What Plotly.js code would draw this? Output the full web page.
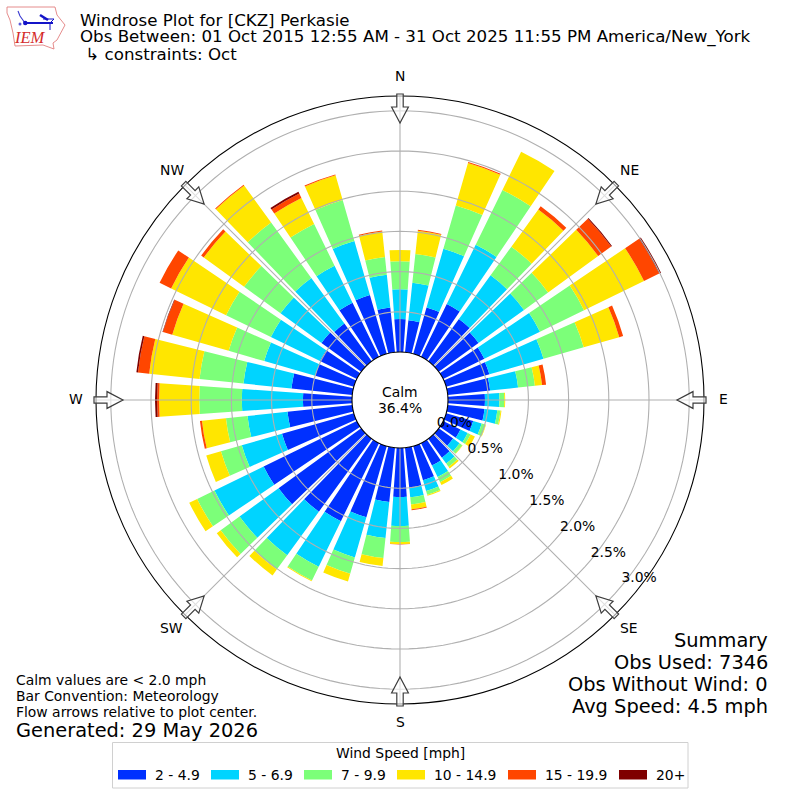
<!DOCTYPE html>
<html><head><meta charset="utf-8">
<script src="https://cdn.plot.ly/plotly-3.0.1.min.js"></script>
<style>html,body{margin:0;padding:0;background:#fff}</style>
</head><body><div id="chart" style="width:800px;height:800px"></div>
<script>
const directions = [0,10,20,30,40,50,60,70,80,90,100,110,120,130,140,150,160,170,180,190,200,210,220,230,240,250,260,270,280,290,300,310,320,330,340,350];
const speedBins = ["2 - 4.9","5 - 6.9","7 - 9.9","10 - 14.9","15 - 19.9","20+"];
const binColors = ["#0030ff","#00d4ff","#7cff79","#ffe600","#ff4600","#7f0000"];
const s2to5 = [0.41,0.40,0.60,0.73,0.65,0.61,0.57,0.56,0.53,0.46,0.46,0.35,0.24,0.22,0.29,0.31,0.44,0.50,0.61,0.68,0.92,1.08,1.12,1.27,1.29,0.93,0.81,0.61,0.76,0.50,0.51,0.61,0.58,0.75,0.76,0.56];
const s5to7 = [0.37,0.47,0.76,0.82,0.67,0.70,0.77,0.70,0.35,0.18,0.16,0.11,0.10,0.10,0.09,0.16,0.14,0.12,0.36,0.45,0.52,0.63,0.67,0.60,0.68,0.52,0.50,0.76,0.60,0.66,0.68,0.63,0.70,0.51,0.70,0.41];
const s7to10 = [0.35,0.36,0.56,0.76,0.44,0.37,0.61,0.52,0.21,0.06,0.04,0.05,0.04,0.04,0.05,0.07,0.05,0.09,0.20,0.25,0.21,0.19,0.22,0.29,0.24,0.27,0.27,0.53,0.55,0.46,0.62,0.56,0.85,0.58,0.53,0.22];
const s10to15 = [0.14,0.29,0.55,0.53,0.57,0.77,0.83,0.46,0.09,0.012,0.012,0.006,0.06,0.006,0.025,0.04,0.012,0.06,0.025,0.10,0.10,0.012,0.09,0.06,0.11,0.19,0.30,0.50,0.63,0.73,0.76,0.62,0.57,0.36,0.32,0.32];
const s15to20 = [0,0.012,0.012,0,0.05,0.20,0.21,0.05,0.05,0,0,0,0,0,0,0,0,0.012,0.004,0,0,0,0,0,0,0,0.025,0.025,0.14,0.12,0.16,0.04,0.012,0.06,0.012,0.012];
const s20up = [0,0,0,0,0,0.012,0.025,0,0,0,0,0,0,0,0,0,0,0,0,0,0,0,0,0,0,0,0,0.025,0.02,0.006,0,0,0,0.025,0,0];
const binValues = [s2to5,s5to7,s7to10,s10to15,s15to20,s20up];
const ringTicks = [0,0.5,1,1.5,2,2.5,3];
const ringLabels = ["0.0%","0.5%","1.0%","1.5%","2.0%","2.5%","3.0%"];
const compassAngles = [0,45,90,135,180,225,270,315];
const compassNames = ["N","NE","E","SE","S","SW","W","NW"];

const FONT = "DejaVu Sans";
const traces = speedBins.map((name,i)=>({
  type:"barpolar", name, r:binValues[i], theta:directions, width:8,
  marker:{color:binColors[i],line:{width:0}}, hoverinfo:"skip", showlegend:false
}));
// gridlines sit above the bars in the reference
const ringTheta=[]; for(let a=0;a<=360;a+=2) ringTheta.push(a);
ringTicks.slice(1).forEach(v=>traces.push({type:"scatterpolar",mode:"lines",r:ringTheta.map(()=>v),theta:ringTheta,
  line:{color:"#b0b0b0",width:1.1},showlegend:false,hoverinfo:"skip"}));
compassAngles.forEach(a=>traces.push({type:"scatterpolar",mode:"lines",r:[0,3.184],theta:[a,a],
  line:{color:"#b0b0b0",width:1.1},showlegend:false,hoverinfo:"skip"}));
// radial tick labels, offset from the 130 degree bearing as in the reference
traces.push({type:"scatterpolar",mode:"text",r:ringTicks,theta:ringTicks.map(()=>130),text:ringLabels,textposition:"top right",
  textfont:{family:FONT,size:13.9,color:"#000"},cliponaxis:false,showlegend:false,hoverinfo:"skip"});

const px=x=>x/800, py=y=>1-y/800;
const pathOf=pts=>"M"+pts.map(p=>px(p[0]).toFixed(5)+","+py(p[1]).toFixed(5)).join("L")+"Z";
const shapes=[];
compassAngles.forEach(a=>{
  const t=a*Math.PI/180, ux=Math.sin(t), uy=-Math.cos(t), vx=Math.cos(t), vy=Math.sin(t);
  const P=(r,w)=>[400+ux*r+vx*w,400+uy*r+vy*w];
  shapes.push({type:"path",xref:"paper",yref:"paper",path:pathOf([P(306,3.2),P(293,3.2),P(293,8.4),P(277,0),P(293,-8.4),P(293,-3.2),P(306,-3.2)]),
    fillcolor:"rgba(255,255,255,0.6)",line:{color:"#3c3c3c",width:1.2}});
});
// IEM logo
const logoLine=(pts,color,width)=>({type:"path",xref:"paper",yref:"paper",
  path:"M"+pts.map(p=>px(p[0]).toFixed(5)+","+py(p[1]).toFixed(5)).join("L"),line:{color,width}});
shapes.push(logoLine([[7,7],[55,7],[57,15],[65,25],[57,40],[53,43],[54,49],[43,45],[15,46],[13,33],[10,20],[7,13],[7,7]],"#e27f7f",0.9));
shapes.push(logoLine([[18,11],[20,16],[25,23]],"#3a3ad0",1.1));
shapes.push(logoLine([[25,23],[53,23]],"#1414c8",2));
shapes.push(logoLine([[40,15],[48,20]],"#1414c8",2.6));
shapes.push(logoLine([[43,19],[54,19],[50,23],[50,30]],"#1414c8",1));
shapes.push({type:"circle",xref:"paper",yref:"paper",x0:px(23),x1:px(27.5),y0:py(20.7),y1:py(25.3),fillcolor:"#1414c8",line:{width:0}});
shapes.push({type:"circle",xref:"paper",yref:"paper",x0:px(18.5),x1:px(21.5),y0:py(22.5),y1:py(25.5),fillcolor:"#5a5ad8",line:{width:0}});

// legend panel
shapes.push({type:"rect",xref:"paper",yref:"paper",x0:px(112.5),x1:px(688),y0:py(742.5),y1:py(788),fillcolor:"#fff",line:{color:"#d0d0d0",width:1}});
const legendSwatchX=[118,211,304,397,508,619], legendTextX=[155,248,341,434,545,656];
speedBins.forEach((n,i)=>shapes.push({type:"rect",xref:"paper",yref:"paper",x0:px(legendSwatchX[i]),x1:px(legendSwatchX[i]+28),y0:py(770),y1:py(779.5),fillcolor:binColors[i],line:{width:0}}));

const note=(text,x,y,size,anchor,extra)=>Object.assign({text,xref:"paper",yref:"paper",x:px(x),y:py(y),xanchor:anchor||"left",yanchor:"middle",
  showarrow:false,font:{family:FONT,size,color:"#000"},borderpad:0,borderwidth:0},extra||{});
const compassLabelPos=[[400,76],[629,170],[723,399],[629,628],[400,722],[171,628],[76,399],[172,170]];
const annotations=[
  note("Obs Between: 01 Oct 2015 12:55 AM - 31 Oct 2025 11:55 PM America/New_York",80,37,16.67),
  note(" ↳ constraints: Oct",80,55,16.67),
  note("Calm",400,392,13.9,"center"),
  note("36.4%",400,408,13.9,"center"),
  note("Calm values are &lt; 2.0 mph",16,680,13.9),
  note("Bar Convention: Meteorology",16,696,13.9),
  note("Flow arrows relative to plot center.",16,712,13.9),
  note("Generated: 29 May 2026",16,730,19.4),
  note("Summary",768,640,19.4,"right"),
  note("Obs Used: 7346",768,662,19.4,"right"),
  note("Obs Without Wind: 0",768,684,19.4,"right"),
  note("Avg Speed: 4.5 mph",768,706,19.4,"right"),
  note("<i>IEM</i>",29.5,38,16.5,"center",{font:{family:"Liberation Serif",size:16.5,color:"#d42a2a"}}),
  note("Wind Speed [mph]",400,753,13.9,"center"),
];
speedBins.forEach((n,i)=>annotations.push(note(n,legendTextX[i],775,13.9)));
compassNames.forEach((n,i)=>annotations.push(note(n,compassLabelPos[i][0],compassLabelPos[i][1],13.9,"center")));

const layout={
  width:800,height:800,margin:{l:0,r:0,t:0,b:0},paper_bgcolor:"#fff",plot_bgcolor:"#fff",
  font:{family:FONT,size:13.9,color:"#000"},
  title:{text:"Windrose Plot for [CKZ] Perkasie",x:px(80),xanchor:"left",xref:"paper",y:py(20),yanchor:"middle",yref:"paper",font:{family:FONT,size:16.67,color:"#000"}},
  polar:{
    domain:{x:[96/800,704/800],y:[96/800,704/800]},bgcolor:"#fff",hole:48/304,barmode:"stack",bargap:0,
    radialaxis:{range:[0,3.184],angle:-40,tickmode:"array",tickvals:ringTicks,showticklabels:false,showgrid:false,showline:false,ticks:""},
    angularaxis:{direction:"clockwise",rotation:90,tickmode:"array",tickvals:compassAngles,showticklabels:false,showgrid:false,showline:true,linecolor:"#000",linewidth:1.1,ticks:""}
  },
  showlegend:false,
  shapes,annotations
};
Plotly.newPlot("chart",traces,layout,{displayModeBar:false,staticPlot:true});
</script></body></html>
